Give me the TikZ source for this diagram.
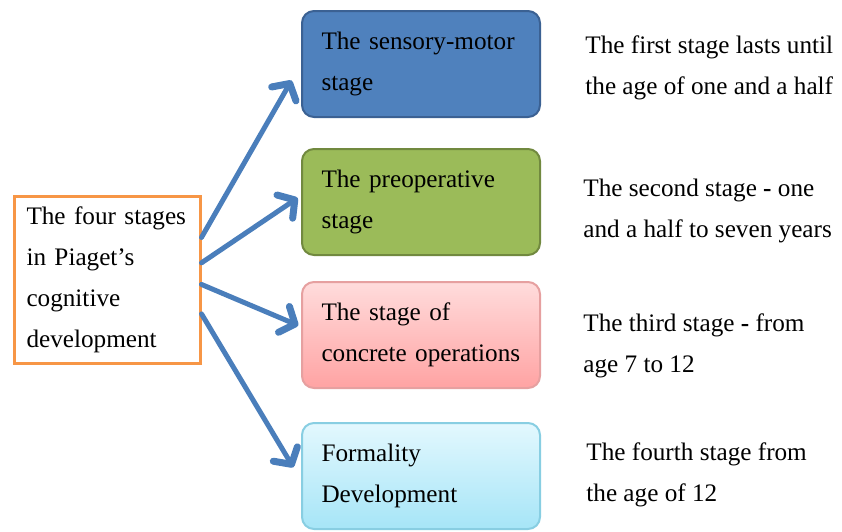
\documentclass[tikz,border=0pt]{standalone}
\usepackage{fontspec}
\setmainfont{Liberation Serif}
\usetikzlibrary{arrows.meta,positioning}
\definecolor{stageblue}{HTML}{4F81BD}
\definecolor{blueline}{HTML}{3B6193}
\definecolor{stagegreen}{HTML}{9BBB59}
\definecolor{greenline}{HTML}{71893F}
\definecolor{pinktop}{HTML}{FFDCDC}
\definecolor{pinkbot}{HTML}{FFA3A3}
\definecolor{pinkline}{HTML}{E6A0A0}
\definecolor{cyantop}{HTML}{E3F8FE}
\definecolor{cyanbot}{HTML}{A6E5F7}
\definecolor{cyanline}{HTML}{88CEE2}
\definecolor{rootorange}{HTML}{F79646}
\definecolor{arrowblue}{HTML}{4A7EBB}
\tikzset{
  >={Straight Barb[length=6pt,width=14pt,line width=3.5pt,round]},
  piaget/.style={font=\fontsize{12.6}{20.5}\selectfont},
  rootbox/.style={
    rectangle, draw=rootorange, line width=1.5pt, inner xsep=2pt,
    minimum width=93pt, minimum height=83.5pt, align=left, text width=80.5pt
  },
  stagebox/.style={
    rectangle, rounded corners=6pt, line width=1pt,
    minimum width=119pt, minimum height=53pt, align=left, text width=99.5pt
  },
  note/.style={align=left, inner sep=0pt},
  arrow/.style={->, line width=2.5pt, draw=arrowblue, line cap=round}
}
\begin{document}
\begin{tikzpicture}[piaget, x=0.5pt, y=-0.5pt]
\useasboundingbox (0,0) rectangle (842,531);

% root box
\node[rootbox] (root) at (107,279.5) {The four stages\\in Piaget’s\\cognitive\\development};

% the four stages
\node[stagebox, fill=stageblue, draw=blueline] (s1) at (421,64) {The sensory-motor\\stage};
\node[stagebox, fill=stagegreen, draw=greenline, below=15pt of s1] (s2) {The preoperative\\stage};
\node[stagebox, top color=pinktop, bottom color=pinkbot, draw=pinkline, below=12.5pt of s2] (s3) {The stage of\\concrete operations};
\node[stagebox, top color=cyantop, bottom color=cyanbot, draw=cyanline, below=16.5pt of s3] (s4) {Formality\\Development};

% descriptions
\node[note, anchor=west, right=22pt of s1, yshift=-2pt] (d1) {The first stage lasts until\\the age of one and a half};
\node[note, anchor=west, right=21pt of s2, yshift=-4.5pt] (d2) {The second stage \textbf{-} one\\and a half to seven years};
\node[note, anchor=west, right=21pt of s3, yshift=-5.5pt] (d3) {The third stage \textbf{-} from\\age 7 to 12};
\node[note, anchor=west, right=22.5pt of s4, yshift=0.5pt] (d4) {The fourth stage from\\the age of 12};

% arrows
\draw[arrow, shorten >=9.5pt] (root.24) -- (s1.west);
\draw[arrow, shorten >=2pt] (root.10.7) -- (s2.177);
\draw[arrow, shorten >=1.5pt] (root.357.8) -- (s3.176.7);
\draw[arrow, shorten >=7.5pt] (root.340.7) -- (s4.182);

\end{tikzpicture}
\end{document}
